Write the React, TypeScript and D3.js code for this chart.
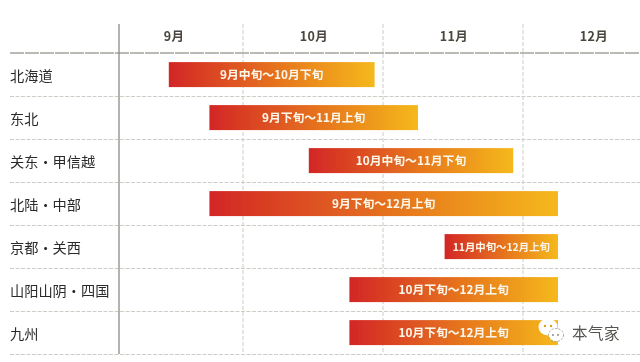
import React from "react";
import * as d3 from "d3";

const regions = ["北海道", "东北", "关东・甲信越", "北陆・中部", "京都・关西", "山阳山阴・四国", "九州"];
const starts = [9.47, 9.76, 10.47, 9.76, 11.44, 10.76, 10.76];
const ends = [10.94, 11.25, 11.93, 12.25, 12.25, 12.25, 12.25];
const periods = [
  "9月中旬～10月下旬",
  "9月下旬～11月上旬",
  "10月中旬～11月下旬",
  "9月下旬～12月上旬",
  "11月中旬～12月上旬",
  "10月下旬～12月上旬",
  "10月下旬～12月上旬",
];
const months = [9, 10, 11, 12];
const monthLabels = ["9月", "10月", "11月", "12月"];

const W = 640;
const H = 362;
const CJK = "'Noto Sans CJK SC', 'Noto Sans CJK JP', sans-serif";

export default function App() {
  const x = d3.scaleLinear().domain([9, 13]).range([103, 663]);
  const y = d3.scaleBand<string>().domain(regions).range([53.5, 354.5]).paddingInner(0).paddingOuter(0);
  const barH = 25;
  const rowLines = regions.map((r) => (y(r) as number) + y.bandwidth());

  return (
    <svg width={W} height={H} style={{ position: "absolute", left: 0, top: 0, background: "#fff" }}>
      <defs>
        <linearGradient id="bar" x1="0" x2="1" y1="0" y2="0">
          <stop offset="0" stopColor="#d32626" />
          <stop offset="0.5" stopColor="#e5701f" />
          <stop offset="1" stopColor="#f5b91e" />
        </linearGradient>
        <filter id="soft" x="-5%" y="-5%" width="110%" height="110%">
          <feGaussianBlur stdDeviation="0.45" />
        </filter>
        <filter id="glow" x="-5%" y="-20%" width="110%" height="140%">
          <feDropShadow dx="0" dy="0" stdDeviation="0.7" floodColor="#8a3a10" floodOpacity="0.45" />
        </filter>
      </defs>

      <g filter="url(#soft)">
        {rowLines.map((ly, i) => (
          <line key={i} x1={10} x2={W} y1={ly} y2={ly} stroke="#cfccc6" strokeWidth={1} strokeDasharray="4 1.5" />
        ))}
        <line x1={10} x2={W} y1={53} y2={53} stroke="#77756a" strokeWidth={1.1} strokeDasharray="14 1" />
        {months.slice(1).map((m) => (
          <line key={m} x1={x(m)} x2={x(m)} y1={24} y2={354} stroke="#cbcbc6" strokeWidth={1} strokeDasharray="4 2" />
        ))}
        <line x1={119} x2={119} y1={24} y2={354} stroke="#8a8a85" strokeWidth={1.3} />

        {months.map((m, i) => (
          <text
            key={m}
            x={x(m + 0.5) + 1}
            y={41}
            style={{ textAnchor: "middle" }}
            fontFamily={CJK}
            fontWeight={700}
            fontSize={12.5}
            letterSpacing={0.4}
            fill="#4a463c"
          >
            {monthLabels[i]}
          </text>
        ))}

        {regions.map((r) => (
          <text
            key={r}
            x={10}
            y={(y(r) as number) + y.bandwidth() / 2 + 6}
            fontFamily={CJK}
            fontSize={14.2}
            fill="#2a2a2a"
          >
            {r}
          </text>
        ))}

        {regions.map((r, i) => {
          const bx = x(starts[i]);
          const bw = x(ends[i]) - bx;
          const by = (y(r) as number) + (y.bandwidth() - barH) / 2 - 0.4;
          return (
            <g key={r}>
              <rect x={bx} y={by} width={bw} height={barH} fill="url(#bar)" />
              <text
                x={bx + bw / 2}
                y={by + barH / 2 + 4}
                style={{ textAnchor: "middle" }}
                fontFamily={CJK}
                fontWeight={700}
                fontSize={bw < 120 ? 10.4 : 11.8}
                fill="#fff6e6"
                filter="url(#glow)"
              >
                {periods[i]}
              </text>
            </g>
          );
        })}

        <g>
          <ellipse cx={548} cy={327} rx={9.5} ry={8.5} fill="#fff" />
          <ellipse cx={556} cy={335} rx={7.5} ry={6.5} fill="#fff" stroke="#8d8d88" strokeWidth={0.8} strokeDasharray="2 1.5" />
          <circle cx={545} cy={326} r={1.2} fill="#d9a021" />
          <circle cx={551} cy={326} r={1.2} fill="#d9a021" />
          <circle cx={553} cy={335} r={1} fill="#8d8d88" />
          <circle cx={558} cy={335} r={1} fill="#8d8d88" />
          <text x={572} y={339} fontFamily={CJK} fontSize={15.5} letterSpacing={0.5} fill="#55554f">
            本气家
          </text>
        </g>
      </g>
    </svg>
  );
}
